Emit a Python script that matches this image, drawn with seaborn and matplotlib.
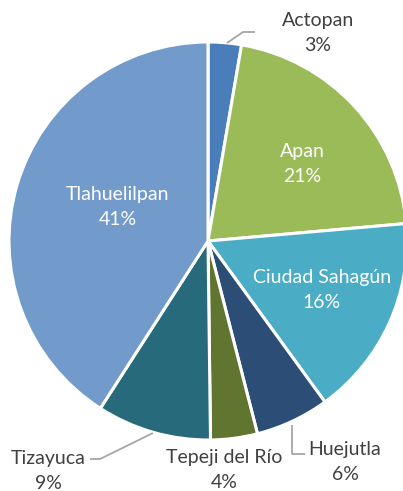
import matplotlib
matplotlib.use("Agg")
import matplotlib.pyplot as plt
import seaborn as sns

categories = ["Actopan", "Apan", "Ciudad Sahagún", "Huejutla", "Tepeji del Río", "Tizayuca", "Tlahuelilpan"]
values = [2.7, 20.9, 16.4, 6.0, 3.8, 9.3, 40.9]
colors = ["#4a7ebb", "#9bbb59", "#4bacc6", "#2c4d75", "#5f7530", "#276a7c", "#729aca"]

sns.set_style("white")
plt.rcParams['font.family'] = ['Lato', 'DejaVu Sans']

W, H = 403, 491
fig = plt.figure(figsize=(W / 100, H / 100), dpi=100)
ax = fig.add_axes([0, 0, 1, 1])

cx, cy, r = 208, H - 241, 199
ax.pie(values, colors=colors, startangle=90, counterclock=False,
       center=(cx, cy), radius=r, frame=True,
       wedgeprops=dict(edgecolor='white', linewidth=2.2))
ax.set_xlim(0, W)
ax.set_ylim(0, H)
ax.set_aspect('equal')
ax.axis('off')

total = sum(values)
pcts = [f"{round(v / total * 100)}%" for v in values]

# label layout (pixel positions, top-origin) and colours
label_pos = {
    "Actopan": (318, 33, '#404040'),
    "Apan": (302, 164, 'white'),
    "Ciudad Sahagún": (322, 290, 'white'),
    "Huejutla": (345, 462, '#404040'),
    "Tepeji del Río": (224, 470, '#404040'),
    "Tizayuca": (48, 471, '#404040'),
    "Tlahuelilpan": (118, 207, 'white'),
}
for cat, p in zip(categories, pcts):
    x, y, c = label_pos[cat]
    ax.text(x, H - y, f"{cat}\n{p}", ha='center', va='center', color=c,
            fontsize=14, linespacing=1.6)

# leader lines
lines = [
    [(227, 43), (243, 32), (255, 32)],
    [(292, 425), (292, 454), (305, 454)],
    [(153, 433), (100, 459), (90, 459)],
]
for pts in lines:
    xs = [p[0] for p in pts]
    ys = [H - p[1] for p in pts]
    ax.plot(xs, ys, color='#a6a6a6', lw=1.3, solid_capstyle='butt')

fig.savefig("out.png", dpi=100)
